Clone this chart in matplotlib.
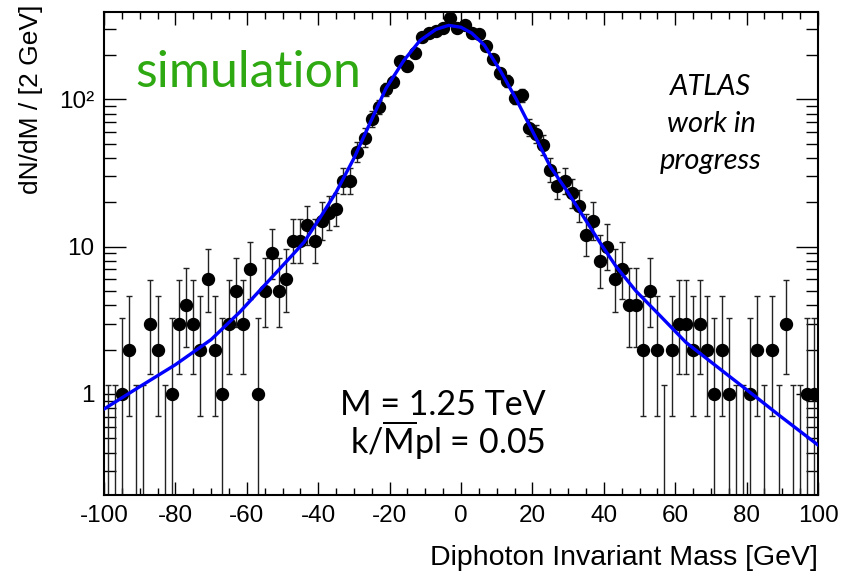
import numpy as np
import matplotlib
matplotlib.use("Agg")
import matplotlib.pyplot as plt
from matplotlib.ticker import MultipleLocator, FixedLocator, FixedFormatter, NullFormatter

plt.rcParams['mathtext.fontset'] = 'custom'
plt.rcParams['mathtext.rm'] = 'Lato'
plt.rcParams['mathtext.it'] = 'Lato:italic'

# ---- data (counts per 2 GeV bin, centres -99 ... 99) ----
bin_centers = np.arange(-99, 100, 2)
counts = [0, 0, 1, 2, 0, 0, 3, 2, 0, 1,
          3, 4, 3, 2, 6, 2, 1, 3, 5, 3,
          7, 1, 5, 9, 5, 6, 11, 11, 14, 11,
          15, 17, 18, 28, 28, 44, 55, 74, 89, 117,
          132, 182, 169, 206, 264, 284, 293, 304, 355, 304,
          318, 284, 278, 232, 187, 150, 133, 103, 107, 64,
          58, 49, 33, 26, 28, 23, 19, 12, 15, 8,
          10, 6, 7, 4, 4, 2, 5, 2, 0, 2,
          3, 3, 2, 3, 2, 1, 2, 1, 0, 0,
          1, 2, 0, 2, 0, 3, 0, 0, 1, 1]
zero_bin_upper = 1.15

# ---- fitted curve ----
fit_x = [-100, -90, -80, -70, -62, -53.5, -47, -44, -39.5, -35, -30, -25.5, -21,
         -16, -11.5, -7, -3.5, 0, 3, 6.5, 11, 15.5, 20, 25, 29.5, 34.5, 39,
         43.5, 49, 55, 63, 72.5, 82, 89, 100]
fit_y = [0.79, 1.12, 1.58, 2.34, 3.59, 6.0, 8.9, 10.7, 15.7, 23.4, 39.8, 68.9, 119,
         184, 251, 299, 318, 309, 282, 234, 157, 100, 61, 35, 24.3, 15.7, 10.6,
         7.3, 5.0, 3.55, 2.24, 1.48, 0.98, 0.72, 0.45]

x_ticks = [-100, -80, -60, -40, -20, 0, 20, 40, 60, 80, 100]
x_ticklabels = ['-100', '-80', '-60', '-40', '-20', '0', '20', '40', '60', '80', '100']
y_ticks = [1, 10, 100]
y_ticklabels = ['1', '10', '10²']

counts = np.array(counts, dtype=float)
x = bin_centers.astype(float)
nz = counts > 0
n = counts[nz]
# Poisson (Garwood 68%) interval via Wilson-Hilferty
lo = n * (1 - 1 / (9 * n) - 1 / (3 * np.sqrt(n))) ** 3
hi = (n + 1) * (1 - 1 / (9 * (n + 1)) + 1 / (3 * np.sqrt(n + 1))) ** 3

fig = plt.figure(figsize=(8.44, 5.77), dpi=100)
ax = fig.add_axes([104 / 844, 1 - 495 / 577, (818 - 104) / 844, (495 - 11.7) / 577])
ax.set_yscale('log')

ax.errorbar(x[nz], n, yerr=[n - lo, hi - n], fmt='o', color='black', ecolor='#222222',
            ms=8.6, elinewidth=1.0, capsize=2.3, capthick=1.0, zorder=2)
xz = x[~nz]
yb = np.full(xz.shape, 0.01)
ax.errorbar(xz, yb, yerr=[np.zeros_like(yb), zero_bin_upper - yb], fmt='none',
            ecolor='#222222', elinewidth=1.0, capsize=2.3, capthick=1.0, zorder=2)

ax.plot(fit_x, fit_y, color='#0000ff', lw=2.4, zorder=3)

ax.set_xlim(-100, 100)
ax.set_ylim(0.206, 394)

tickfont = 'Liberation Sans'
ax.xaxis.set_major_locator(FixedLocator(x_ticks))
ax.xaxis.set_major_formatter(FixedFormatter(x_ticklabels))
ax.xaxis.set_minor_locator(MultipleLocator(5))
ax.yaxis.set_major_locator(FixedLocator(y_ticks))
ax.yaxis.set_major_formatter(FixedFormatter(y_ticklabels))
minor_y = [m * 10.0 ** e for e in (-1, 0, 1, 2) for m in range(2, 10)]
ax.yaxis.set_minor_locator(FixedLocator(minor_y))
ax.yaxis.set_minor_formatter(NullFormatter())

ax.tick_params(axis='both', which='both', direction='in', top=True, right=True,
               width=1.0, labelsize=17.5)
ax.tick_params(axis='x', which='both', pad=7)
ax.tick_params(axis='y', which='both', pad=7)
ax.tick_params(axis='x', which='major', length=9.5)
ax.tick_params(axis='x', which='minor', length=5)
ax.tick_params(axis='y', which='major', length=16)
ax.tick_params(axis='y', which='minor', length=8.5)
for lab in ax.get_xticklabels() + ax.get_yticklabels():
    lab.set_fontfamily(tickfont)
for s in ax.spines.values():
    s.set_linewidth(1.5)

ax.set_ylabel('dN/dM / [2 GeV]', fontfamily=tickfont, fontsize=19)
ax.yaxis.set_label_coords(-0.086, 1.014)
ax.yaxis.label.set_horizontalalignment('right')
ax.set_xlabel('Diphoton Invariant Mass [GeV]', fontfamily=tickfont, fontsize=20.5)
ax.xaxis.set_label_coords(1.0, -0.103)
ax.xaxis.label.set_horizontalalignment('right')

fig.text(135 / 844, 1 - 87 / 577, 'simulation', color='#2ea912', fontsize=36,
         fontfamily='Lato', ha='left', va='baseline')
fig.text(711 / 844, 1 - 124 / 577, 'ATLAS\nwork in\nprogress', fontsize=21,
         fontfamily='Lato', style='italic', ha='center', va='center', linespacing=1.52)
fig.text(443 / 844, 1 - 405 / 577, 'M = 1.25 TeV', fontsize=24.5, fontfamily='Lato',
         ha='center', va='center')
fig.text(448 / 844, 1 - 440 / 577, r'k/$\overline{\mathrm{M}}$pl = 0.05', fontsize=24.5,
         fontfamily='Lato', ha='center', va='center')

fig.savefig('out.png', dpi=100)
